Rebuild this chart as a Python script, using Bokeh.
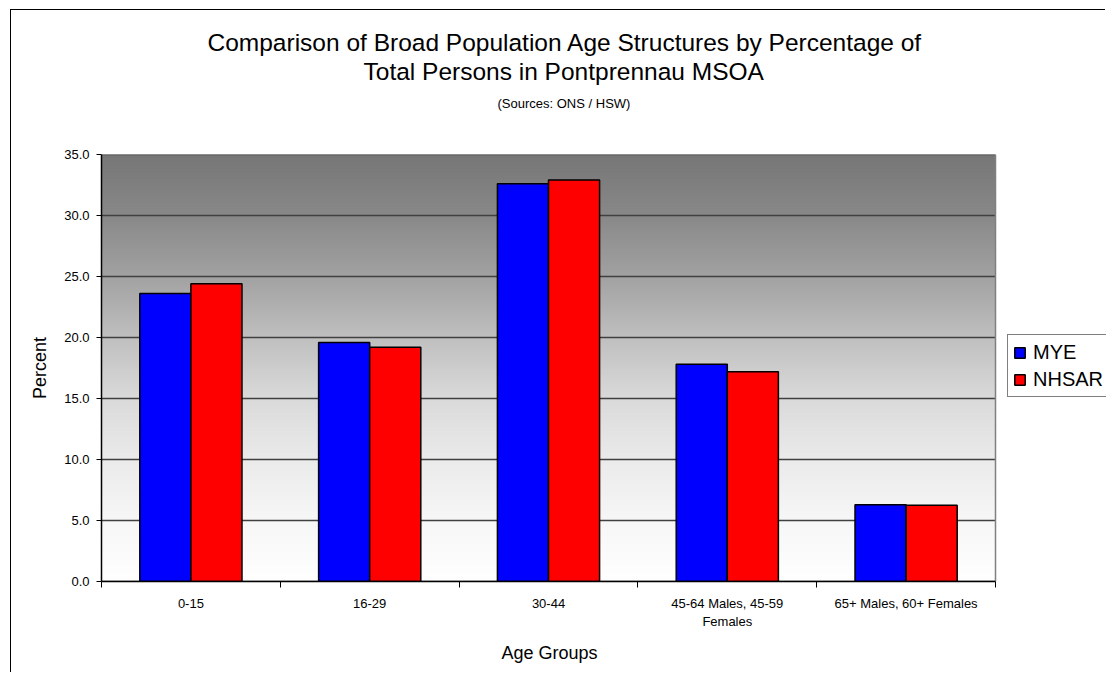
import numpy as np
from bokeh.plotting import figure
from bokeh.models import Range1d, FixedTicker, Title, Legend, LegendItem, ColumnDataSource
from bokeh.embed import file_html
from bokeh.resources import INLINE

# ---- data ----
categories = ["0-15", "16-29", "30-44", "45-64 Males, 45-59 Females", "65+ Males, 60+ Females"]
tick_labels = ["0-15", "16-29", "30-44", "45-64 Males, 45-59\nFemales", "65+ Males, 60+ Females"]
series_names = ["MYE", "NHSAR"]
mye = [23.6, 19.6, 32.6, 17.8, 6.3]
nhsar = [24.4, 19.2, 32.9, 17.2, 6.25]
y_ticks = [0, 5, 10, 15, 20, 25, 30, 35]

FONT = "Liberation Sans"
W, H = 1095, 663
n = len(categories)

# layout: plot area spans 894px of a 1005px wide frame; the rest holds the legend
x_end = n * 1005 / 894

p = figure(width=W, height=H, output_backend="svg", toolbar_location=None,
           title=None, x_range=Range1d(0, x_end), y_range=Range1d(0, 35),
           min_border_left=90, min_border_right=0, min_border_top=144, min_border_bottom=92)
p.margin = (9, 0, 0, 10)
p.styles = {"border-left": "1px solid black", "border-top": "1px solid black"}
p.background_fill_color = "white"
p.border_fill_color = "white"
p.outline_line_color = None

# gradient background (style only)
g_stops_y = [0, 5, 10, 15, 20, 25, 30, 35]
g_stops_v = [255, 247, 235, 218, 192, 162, 137, 119]
rows = 430
yy = np.linspace(0, 35, rows)
gray = np.interp(yy, g_stops_y, g_stops_v).astype(np.uint32)
img = np.empty((rows, 1), dtype=np.uint32)
view = img.view(dtype=np.uint8).reshape((rows, 1, 4))
view[:, 0, 0] = gray
view[:, 0, 1] = gray
view[:, 0, 2] = gray
view[:, 0, 3] = 255
p.image_rgba(image=[img], x=0, y=0, dw=n, dh=35, level="image")

# grid lines and right border of the plot area
p.xgrid.visible = False
p.ygrid.visible = False
p.segment(x0=0, x1=n, y0=y_ticks, y1=y_ticks, line_color="#404040", line_width=1.5)
p.segment(x0=n, x1=n, y0=0, y1=y_ticks[-1], line_color="#808080", line_width=1.5)

# bars
bw = 1 / 3.5
centers = np.arange(n) + 0.5
src = ColumnDataSource(dict(x1=centers - bw / 2, x2=centers + bw / 2, mye=mye, nhsar=nhsar))
r1 = p.vbar(x="x1", top="mye", width=bw, source=src, fill_color="#0000ff",
            line_color="black", line_width=1.5)
r2 = p.vbar(x="x2", top="nhsar", width=bw, source=src, fill_color="#ff0000",
            line_color="black", line_width=1.5)

# y axis
ya = p.yaxis[0]
ya.ticker = FixedTicker(ticks=y_ticks)
ya.major_label_overrides = {t: f"{t:.1f}" for t in y_ticks}
ya.major_label_text_font = FONT
ya.major_label_text_font_size = "13px"
ya.major_label_text_color = "black"
ya.major_tick_out = 5
ya.major_tick_in = 0
ya.minor_tick_line_color = None
ya.axis_line_color = "black"
ya.axis_line_width = 1.5
ya.major_label_standoff = 7
ya.axis_label = "Percent"
ya.axis_label_text_font = FONT
ya.axis_label_text_font_size = "18px"
ya.axis_label_text_font_style = "normal"
ya.axis_label_text_color = "black"
ya.axis_label_standoff = 11

# x axis
xa = p.xaxis[0]
xa.bounds = (0, n)
xa.ticker = FixedTicker(ticks=list(centers), minor_ticks=list(range(n + 1)))
xa.major_label_overrides = {float(c): lab for c, lab in zip(centers, tick_labels)}
xa.major_label_text_font = FONT
xa.major_label_text_font_size = "13px"
xa.major_label_text_color = "black"
xa.major_tick_line_color = None
xa.minor_tick_out = 6
xa.minor_tick_in = 0
xa.minor_tick_line_color = "black"
xa.axis_line_color = "black"
xa.axis_line_width = 1.5
xa.major_label_standoff = 8

# x axis title, centred under the plot area
p.add_layout(Title(text="Age Groups", align="left", offset=400, vertical_align="bottom",
                   text_font=FONT, text_font_size="18px", text_font_style="normal",
                   text_color="black", standoff=18), "below")

# titles (first added is nearest the frame)
p.add_layout(Title(text=" ", text_font_size="1px", standoff=31), "above")
p.add_layout(Title(text="(Sources: ONS / HSW)", align="left", offset=396,
                   text_font=FONT, text_font_size="13px", text_font_style="normal",
                   text_color="black", standoff=19), "above")
p.add_layout(Title(text="Total Persons in Pontprennau MSOA", align="left", offset=262,
                   text_font=FONT, text_font_size="24.5px", text_font_style="normal",
                   text_color="black", standoff=0), "above")
p.add_layout(Title(text="Comparison of Broad Population Age Structures by Percentage of",
                   align="left", offset=106,
                   text_font=FONT, text_font_size="24.5px", text_font_style="normal",
                   text_color="black", standoff=0), "above")

# legend
legend = Legend(items=[LegendItem(label=series_names[0], renderers=[r1]),
                       LegendItem(label=series_names[1], renderers=[r2])],
                location=(906, 184), orientation="vertical",
                label_text_font=FONT, label_text_font_size="20px", label_text_color="black",
                glyph_width=13, glyph_height=13, label_height=24, label_standoff=7,
                padding=5, spacing=3, margin=0,
                border_line_color="black", border_line_width=1,
                background_fill_color="white", background_fill_alpha=1)
p.add_layout(legend, "center")

open("out.html", "w").write(file_html(p, INLINE))
